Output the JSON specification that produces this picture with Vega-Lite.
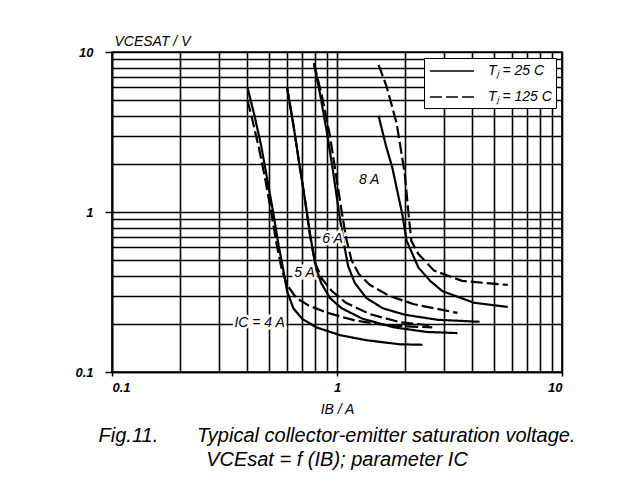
{
  "$schema": "https://vega.github.io/schema/vega-lite/v6.json",
  "width": 450,
  "height": 320,
  "autosize": {"type": "none"},
  "padding": {"left": 112, "top": 52, "right": 67, "bottom": 112},
  "background": "white",
  "config": {
    "view": {"stroke": "black", "strokeWidth": 1.6},
    "axis": {
      "domainColor": "black", "domainWidth": 1.6,
      "gridColor": "black", "gridWidth": 1.6, "gridOpacity": 1,
      "tickColor": "black", "tickWidth": 1.5,
      "labelFont": "Liberation Sans", "labelFontStyle": "italic", "labelFontWeight": "bold", "labelFontSize": 13, "labelColor": "black",
      "titleFont": "Liberation Sans", "titleFontStyle": "italic", "titleFontWeight": "normal", "titleFontSize": 14, "titleColor": "black",
      "labelOverlap": false
    },
    "legend": {
      "labelFont": "Liberation Sans", "labelFontStyle": "italic", "labelFontSize": 14, "labelColor": "black"
    }
  },
  "datasets": {
    "curves": [
      {"ic": "4 A", "tj": "Tⱼ = 25 C", "ib": 0.40, "v": 6.0},
      {"ic": "4 A", "tj": "Tⱼ = 25 C", "ib": 0.43, "v": 4.0},
      {"ic": "4 A", "tj": "Tⱼ = 25 C", "ib": 0.46, "v": 2.6},
      {"ic": "4 A", "tj": "Tⱼ = 25 C", "ib": 0.49, "v": 1.6},
      {"ic": "4 A", "tj": "Tⱼ = 25 C", "ib": 0.52, "v": 1.0},
      {"ic": "4 A", "tj": "Tⱼ = 25 C", "ib": 0.55, "v": 0.62},
      {"ic": "4 A", "tj": "Tⱼ = 25 C", "ib": 0.58, "v": 0.42},
      {"ic": "4 A", "tj": "Tⱼ = 25 C", "ib": 0.60, "v": 0.32},
      {"ic": "4 A", "tj": "Tⱼ = 25 C", "ib": 0.64, "v": 0.25},
      {"ic": "4 A", "tj": "Tⱼ = 25 C", "ib": 0.70, "v": 0.215},
      {"ic": "4 A", "tj": "Tⱼ = 25 C", "ib": 0.81, "v": 0.19},
      {"ic": "4 A", "tj": "Tⱼ = 25 C", "ib": 1.03, "v": 0.17},
      {"ic": "4 A", "tj": "Tⱼ = 25 C", "ib": 1.35, "v": 0.158},
      {"ic": "4 A", "tj": "Tⱼ = 25 C", "ib": 1.9, "v": 0.149},
      {"ic": "4 A", "tj": "Tⱼ = 25 C", "ib": 2.4, "v": 0.148},
      {"ic": "4 A", "tj": "Tⱼ = 125 C", "ib": 0.40, "v": 5.0},
      {"ic": "4 A", "tj": "Tⱼ = 125 C", "ib": 0.42, "v": 3.8},
      {"ic": "4 A", "tj": "Tⱼ = 125 C", "ib": 0.45, "v": 2.5},
      {"ic": "4 A", "tj": "Tⱼ = 125 C", "ib": 0.48, "v": 1.6},
      {"ic": "4 A", "tj": "Tⱼ = 125 C", "ib": 0.51, "v": 1.0},
      {"ic": "4 A", "tj": "Tⱼ = 125 C", "ib": 0.54, "v": 0.62},
      {"ic": "4 A", "tj": "Tⱼ = 125 C", "ib": 0.57, "v": 0.43},
      {"ic": "4 A", "tj": "Tⱼ = 125 C", "ib": 0.60, "v": 0.35},
      {"ic": "4 A", "tj": "Tⱼ = 125 C", "ib": 0.66, "v": 0.29},
      {"ic": "4 A", "tj": "Tⱼ = 125 C", "ib": 0.75, "v": 0.26},
      {"ic": "4 A", "tj": "Tⱼ = 125 C", "ib": 0.9, "v": 0.235},
      {"ic": "4 A", "tj": "Tⱼ = 125 C", "ib": 1.2, "v": 0.21},
      {"ic": "4 A", "tj": "Tⱼ = 125 C", "ib": 1.7, "v": 0.195},
      {"ic": "4 A", "tj": "Tⱼ = 125 C", "ib": 2.65, "v": 0.19},
      {"ic": "5 A", "tj": "Tⱼ = 25 C", "ib": 0.60, "v": 6.0},
      {"ic": "5 A", "tj": "Tⱼ = 25 C", "ib": 0.64, "v": 3.5},
      {"ic": "5 A", "tj": "Tⱼ = 25 C", "ib": 0.68, "v": 2.0},
      {"ic": "5 A", "tj": "Tⱼ = 25 C", "ib": 0.72, "v": 1.2},
      {"ic": "5 A", "tj": "Tⱼ = 25 C", "ib": 0.76, "v": 0.72},
      {"ic": "5 A", "tj": "Tⱼ = 25 C", "ib": 0.80, "v": 0.47},
      {"ic": "5 A", "tj": "Tⱼ = 25 C", "ib": 0.85, "v": 0.36},
      {"ic": "5 A", "tj": "Tⱼ = 25 C", "ib": 0.93, "v": 0.29},
      {"ic": "5 A", "tj": "Tⱼ = 25 C", "ib": 1.05, "v": 0.25},
      {"ic": "5 A", "tj": "Tⱼ = 25 C", "ib": 1.3, "v": 0.215},
      {"ic": "5 A", "tj": "Tⱼ = 25 C", "ib": 1.8, "v": 0.19},
      {"ic": "5 A", "tj": "Tⱼ = 25 C", "ib": 2.5, "v": 0.178},
      {"ic": "5 A", "tj": "Tⱼ = 25 C", "ib": 3.43, "v": 0.175},
      {"ic": "5 A", "tj": "Tⱼ = 125 C", "ib": 0.60, "v": 6.0},
      {"ic": "5 A", "tj": "Tⱼ = 125 C", "ib": 0.64, "v": 3.5},
      {"ic": "5 A", "tj": "Tⱼ = 125 C", "ib": 0.68, "v": 2.0},
      {"ic": "5 A", "tj": "Tⱼ = 125 C", "ib": 0.72, "v": 1.2},
      {"ic": "5 A", "tj": "Tⱼ = 125 C", "ib": 0.76, "v": 0.7},
      {"ic": "5 A", "tj": "Tⱼ = 125 C", "ib": 0.80, "v": 0.48},
      {"ic": "5 A", "tj": "Tⱼ = 125 C", "ib": 0.86, "v": 0.38},
      {"ic": "5 A", "tj": "Tⱼ = 125 C", "ib": 0.95, "v": 0.32},
      {"ic": "5 A", "tj": "Tⱼ = 125 C", "ib": 1.1, "v": 0.27},
      {"ic": "5 A", "tj": "Tⱼ = 125 C", "ib": 1.4, "v": 0.23},
      {"ic": "5 A", "tj": "Tⱼ = 125 C", "ib": 1.9, "v": 0.205},
      {"ic": "5 A", "tj": "Tⱼ = 125 C", "ib": 2.65, "v": 0.195},
      {"ic": "6 A", "tj": "Tⱼ = 25 C", "ib": 0.79, "v": 8.5},
      {"ic": "6 A", "tj": "Tⱼ = 25 C", "ib": 0.84, "v": 5.5},
      {"ic": "6 A", "tj": "Tⱼ = 25 C", "ib": 0.90, "v": 3.2},
      {"ic": "6 A", "tj": "Tⱼ = 25 C", "ib": 0.96, "v": 1.8},
      {"ic": "6 A", "tj": "Tⱼ = 25 C", "ib": 1.02, "v": 1.0},
      {"ic": "6 A", "tj": "Tⱼ = 25 C", "ib": 1.07, "v": 0.65},
      {"ic": "6 A", "tj": "Tⱼ = 25 C", "ib": 1.12, "v": 0.46},
      {"ic": "6 A", "tj": "Tⱼ = 25 C", "ib": 1.2, "v": 0.36},
      {"ic": "6 A", "tj": "Tⱼ = 25 C", "ib": 1.35, "v": 0.29},
      {"ic": "6 A", "tj": "Tⱼ = 25 C", "ib": 1.6, "v": 0.25},
      {"ic": "6 A", "tj": "Tⱼ = 25 C", "ib": 2.0, "v": 0.228},
      {"ic": "6 A", "tj": "Tⱼ = 25 C", "ib": 2.8, "v": 0.212},
      {"ic": "6 A", "tj": "Tⱼ = 25 C", "ib": 4.3, "v": 0.206},
      {"ic": "6 A", "tj": "Tⱼ = 125 C", "ib": 0.79, "v": 8.5},
      {"ic": "6 A", "tj": "Tⱼ = 125 C", "ib": 0.86, "v": 5.2},
      {"ic": "6 A", "tj": "Tⱼ = 125 C", "ib": 0.93, "v": 3.0},
      {"ic": "6 A", "tj": "Tⱼ = 125 C", "ib": 0.99, "v": 1.7},
      {"ic": "6 A", "tj": "Tⱼ = 125 C", "ib": 1.05, "v": 1.0},
      {"ic": "6 A", "tj": "Tⱼ = 125 C", "ib": 1.1, "v": 0.68},
      {"ic": "6 A", "tj": "Tⱼ = 125 C", "ib": 1.16, "v": 0.5},
      {"ic": "6 A", "tj": "Tⱼ = 125 C", "ib": 1.25, "v": 0.41},
      {"ic": "6 A", "tj": "Tⱼ = 125 C", "ib": 1.4, "v": 0.35},
      {"ic": "6 A", "tj": "Tⱼ = 125 C", "ib": 1.7, "v": 0.3},
      {"ic": "6 A", "tj": "Tⱼ = 125 C", "ib": 2.2, "v": 0.265},
      {"ic": "6 A", "tj": "Tⱼ = 125 C", "ib": 3.43, "v": 0.234},
      {"ic": "8 A", "tj": "Tⱼ = 25 C", "ib": 1.53, "v": 4.0},
      {"ic": "8 A", "tj": "Tⱼ = 25 C", "ib": 1.65, "v": 2.6},
      {"ic": "8 A", "tj": "Tⱼ = 25 C", "ib": 1.76, "v": 1.9},
      {"ic": "8 A", "tj": "Tⱼ = 25 C", "ib": 1.95, "v": 0.97},
      {"ic": "8 A", "tj": "Tⱼ = 25 C", "ib": 2.04, "v": 0.66},
      {"ic": "8 A", "tj": "Tⱼ = 25 C", "ib": 2.3, "v": 0.45},
      {"ic": "8 A", "tj": "Tⱼ = 25 C", "ib": 2.6, "v": 0.37},
      {"ic": "8 A", "tj": "Tⱼ = 25 C", "ib": 2.94, "v": 0.32},
      {"ic": "8 A", "tj": "Tⱼ = 25 C", "ib": 4.06, "v": 0.271},
      {"ic": "8 A", "tj": "Tⱼ = 25 C", "ib": 5.74, "v": 0.255},
      {"ic": "8 A", "tj": "Tⱼ = 125 C", "ib": 1.53, "v": 8.3},
      {"ic": "8 A", "tj": "Tⱼ = 125 C", "ib": 1.66, "v": 6.1},
      {"ic": "8 A", "tj": "Tⱼ = 125 C", "ib": 1.84, "v": 3.6},
      {"ic": "8 A", "tj": "Tⱼ = 125 C", "ib": 2.0, "v": 1.74},
      {"ic": "8 A", "tj": "Tⱼ = 125 C", "ib": 2.08, "v": 0.97},
      {"ic": "8 A", "tj": "Tⱼ = 125 C", "ib": 2.14, "v": 0.66},
      {"ic": "8 A", "tj": "Tⱼ = 125 C", "ib": 2.3, "v": 0.546},
      {"ic": "8 A", "tj": "Tⱼ = 125 C", "ib": 2.7, "v": 0.43},
      {"ic": "8 A", "tj": "Tⱼ = 125 C", "ib": 3.6, "v": 0.371},
      {"ic": "8 A", "tj": "Tⱼ = 125 C", "ib": 5.74, "v": 0.35}
    ],
    "labels": [
      {"t": "8 A", "ib": 1.39, "v": 1.58},
      {"t": "6 A", "ib": 0.955, "v": 0.68},
      {"t": "5 A", "ib": 0.717, "v": 0.416},
      {"t": "IC = 4 A", "ib": 0.453, "v": 0.202}
    ]
  },
  "title": {
    "text": ["Fig.11.\u00a0\u00a0\u00a0\u00a0\u00a0\u00a0\u00a0Typical collector-emitter saturation voltage.", "VCEsat = f (IB); parameter IC"],
    "orient": "bottom",
    "anchor": "middle",
    "frame": "group",
    "font": "Liberation Sans",
    "fontStyle": "italic",
    "fontWeight": "normal",
    "fontSize": 20,
    "lineHeight": 24,
    "color": "black",
    "offset": 10
  },
  "layer": [
    {
      "data": {"name": "curves"},
      "mark": {"type": "line", "stroke": "black", "strokeWidth": 2.2, "clip": true},
      "encoding": {
        "x": {
          "field": "ib", "type": "quantitative",
          "scale": {"type": "log", "domain": [0.1, 10]},
          "axis": {
            "title": "IB / A",
            "values": [0.1, 0.2, 0.3, 0.4, 0.5, 0.6, 0.7, 0.8, 0.9, 1, 2, 3, 4, 5, 6, 7, 8, 9, 10],
            "labelExpr": "datum.value == 0.1 ? '0.1' : datum.value == 1 ? '1' : datum.value == 10 ? '10' : ''",
            "tickSize": 4,
            "tickOpacity": {"condition": {"test": "datum.value == 0.1 || datum.value == 1 || datum.value == 10", "value": 1}, "value": 0},
            "labelPadding": 5,
            "titlePadding": 8
          }
        },
        "y": {
          "field": "v", "type": "quantitative",
          "scale": {"type": "log", "domain": [0.1, 10]},
          "axis": {
            "title": "VCESAT / V",
            "values": [0.1, 0.2, 0.3, 0.4, 0.5, 0.6, 0.7, 0.8, 0.9, 1, 2, 3, 4, 5, 6, 7, 8, 9, 10],
            "labelExpr": "datum.value == 0.1 ? '0.1' : datum.value == 1 ? '1' : datum.value == 10 ? '10' : ''",
            "tickSize": 7,
            "tickOpacity": {"condition": {"test": "datum.value == 0.1 || datum.value == 1 || datum.value == 10", "value": 1}, "value": 0},
            "labelPadding": 12,
            "titleAngle": 0,
            "titleAlign": "left",
            "titleBaseline": "middle",
            "titleX": 2,
            "titleY": -11
          }
        },
        "detail": {"field": "ic", "type": "nominal"},
        "strokeDash": {
          "field": "tj", "type": "nominal",
          "scale": {"domain": ["Tⱼ = 25 C", "Tⱼ = 125 C"], "range": [[1, 0], [12, 4]]},
          "legend": {
            "title": null,
            "orient": "top-right",
            "offset": 6,
            "strokeColor": "black",
            "fillColor": "white",
            "padding": 4,
            "symbolType": "M-0.875,0H4.625",
            "symbolSize": 256,
            "symbolStrokeWidth": 1.5,
            "symbolStrokeColor": "black",
            "labelOffset": 42,
            "rowPadding": 10
          }
        }
      }
    },
    {
      "data": {"name": "labels"},
      "mark": {"type": "text", "font": "Liberation Sans", "fontStyle": "italic", "fontSize": 14, "stroke": "white", "strokeWidth": 5, "color": "white"},
      "encoding": {
        "x": {"field": "ib", "type": "quantitative"},
        "y": {"field": "v", "type": "quantitative"},
        "text": {"field": "t"}
      }
    },
    {
      "data": {"name": "labels"},
      "mark": {"type": "text", "font": "Liberation Sans", "fontStyle": "italic", "fontSize": 14, "color": "black"},
      "encoding": {
        "x": {"field": "ib", "type": "quantitative"},
        "y": {"field": "v", "type": "quantitative"},
        "text": {"field": "t"}
      }
    }
  ]
}
